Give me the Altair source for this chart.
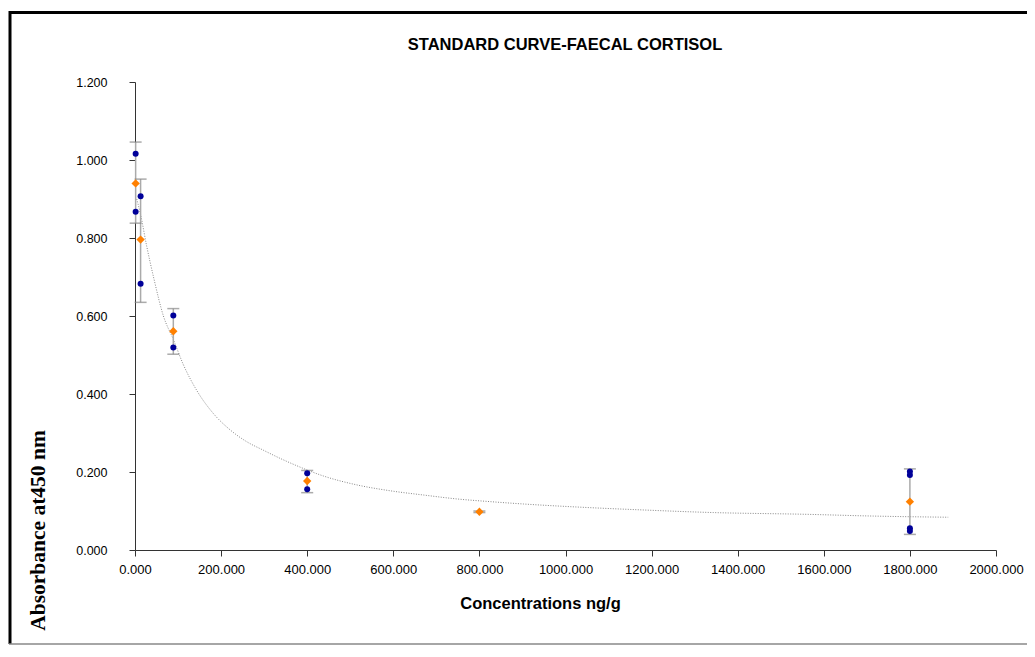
import altair as alt
import pandas as pd

# Standards (concentration ng/g)
conc = [1.5, 13, 89, 400, 800, 1800]
# mean absorbance (orange diamonds)
mean_abs = [0.940, 0.796, 0.561, 0.177, 0.098, 0.124]
# error bar bounds
err_lo = [0.838, 0.635, 0.502, 0.147, 0.096, 0.040]
err_hi = [1.046, 0.951, 0.619, 0.204, 0.100, 0.208]

# replicate readings (blue dots; the 800 replicates are hidden under the mean)
rep_conc = [1.5, 1.5, 13, 13, 89, 89, 400, 400, 1800, 1800, 1800, 1800]
rep_abs = [1.016, 0.867, 0.907, 0.683, 0.601, 0.519, 0.197, 0.156,
           0.201, 0.192, 0.056, 0.049]

# fitted trend line
fit_conc = [4, 13, 27, 43, 66, 89, 112, 143, 182, 221, 259, 298, 337, 376, 437,
            515, 592, 670, 747, 825, 902, 1049, 1173, 1343, 1560, 1715, 1889]
fit_abs = [0.900, 0.860, 0.780, 0.700, 0.600, 0.540, 0.476, 0.410, 0.350, 0.308,
           0.278, 0.256, 0.235, 0.216, 0.190, 0.167, 0.152, 0.141, 0.131, 0.124,
           0.118, 0.109, 0.103, 0.096, 0.0915, 0.087, 0.084]

x_ticks = [0, 200, 400, 600, 800, 1000, 1200, 1400, 1600, 1800, 2000]
y_ticks = [0, 0.2, 0.4, 0.6, 0.8, 1.0, 1.2]

title_text = "STANDARD CURVE-FAECAL CORTISOL"

means = pd.DataFrame({"c": conc, "m": mean_abs, "lo": err_lo, "hi": err_hi})
reps = pd.DataFrame({"c": rep_conc, "a": rep_abs})
fit = pd.DataFrame({"c": fit_conc, "a": fit_abs})
one = pd.DataFrame({"t": [title_text]})

xs = alt.Scale(domain=[0, 2000], nice=False)
ys = alt.Scale(domain=[0, 1.2], nice=False)

x_axis = alt.Axis(
    title="Concentrations ng/g", values=x_ticks, format=".3f", grid=False,
    domainColor="#333333", tickColor="#333333", tickSize=6,
    labelFont="Liberation Sans", labelFontSize=13, labelColor="#000000",
    labelPadding=7, labelFlush=False, labelOverlap=False,
    titleFont="Liberation Sans", titleFontSize=16.5, titleFontWeight="bold",
    titleColor="#000000", titleX=405, titleY=53, titleBaseline="middle",
)
y_axis = alt.Axis(
    title="Absorbance at450 nm", values=y_ticks, format=".3f", grid=False,
    domainColor="#333333", tickColor="#333333", tickSize=6,
    labelFont="Liberation Sans", labelFontSize=12.5, labelColor="#000000",
    labelPadding=22, labelFlush=False, labelOverlap=False,
    titleFont="Liberation Serif", titleFontSize=21.5, titleFontWeight="bold",
    titleColor="#000000", titleX=-97, titleY=448, titleAngle=270,
    titleAlign="center", titleBaseline="middle",
)

base = alt.Chart(means)

trend = alt.Chart(fit).mark_line(
    color="#888888", strokeWidth=1, strokeDash=[1, 1.5], interpolate="monotone"
).encode(
    x=alt.X("c:Q", scale=xs, axis=x_axis),
    y=alt.Y("a:Q", scale=ys, axis=y_axis),
)

err = base.mark_rule(color="#aaaaaa", strokeWidth=1.5).encode(
    x=alt.X("c:Q", scale=xs), y=alt.Y("lo:Q", scale=ys), y2="hi:Q"
)
cap_lo = base.mark_tick(color="#888888", orient="horizontal", size=12, thickness=1.5).encode(
    x=alt.X("c:Q", scale=xs), y=alt.Y("lo:Q", scale=ys)
)
cap_hi = base.mark_tick(color="#888888", orient="horizontal", size=12, thickness=1.5).encode(
    x=alt.X("c:Q", scale=xs), y=alt.Y("hi:Q", scale=ys)
)

blue = alt.Chart(reps).mark_point(
    shape="circle", filled=True, size=36, color="#000099", opacity=1
).encode(x=alt.X("c:Q", scale=xs), y=alt.Y("a:Q", scale=ys))

orange = base.mark_point(
    shape="diamond", filled=True, size=70, color="#FF8000", opacity=1
).encode(x=alt.X("c:Q", scale=xs), y=alt.Y("m:Q", scale=ys))

# chart title as a text mark (the frame lines would push a regular title off-page)
title = alt.Chart(one).mark_text(
    font="Liberation Sans", fontSize=16.5, fontWeight="bold", color="#000000",
    align="center", baseline="middle"
).encode(text="t:N", x=alt.value(430), y=alt.value(-37))

# decorative frame around the chart
frame_top = alt.Chart(one).mark_rule(color="#000000", strokeWidth=3).encode(
    x=alt.value(-126), x2=alt.value(905), y=alt.value(-69.5)
)
frame_left = alt.Chart(one).mark_rule(color="#000000", strokeWidth=3).encode(
    x=alt.value(-125), y=alt.value(-71), y2=alt.value(562)
)
frame_bottom = alt.Chart(one).mark_rule(color="#888888", strokeWidth=1.5).encode(
    x=alt.value(-126), x2=alt.value(905), y=alt.value(562)
)

chart = alt.layer(
    trend, err, cap_lo, cap_hi, blue, orange, title,
    frame_top, frame_left, frame_bottom
).properties(
    width=861, height=468,
    autosize=alt.AutoSizeParams(type="none"),
    padding={"left": 127, "top": 74, "right": 31, "bottom": 107},
).configure_view(stroke=None)

chart.save("out.html", embed_options={"renderer": "svg", "actions": False})
